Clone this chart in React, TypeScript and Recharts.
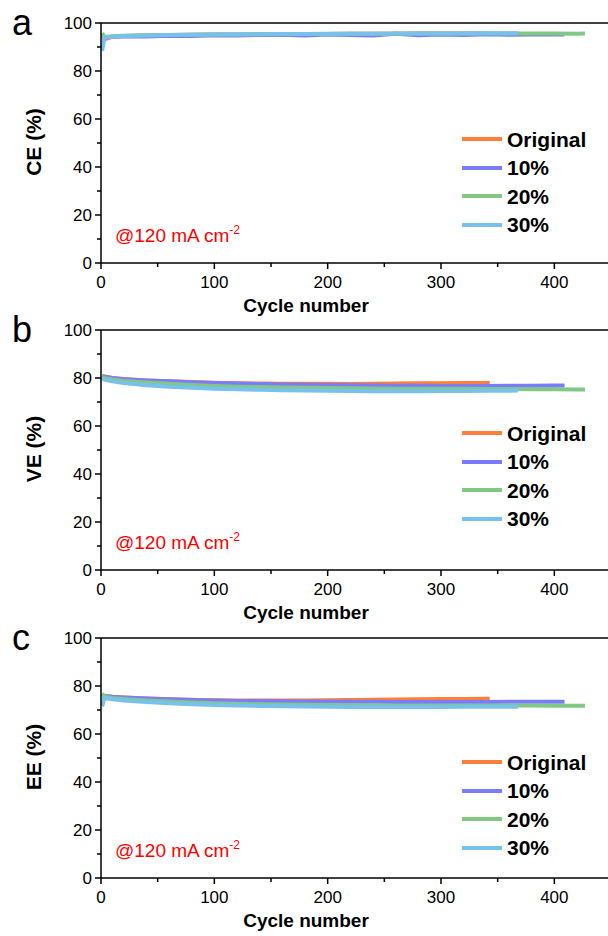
import React from 'react';
import { LineChart, Line, XAxis, YAxis, ReferenceLine, Legend } from 'recharts';

const FONT = '"Liberation Sans", Arial, sans-serif';

const SERIES_NAMES = ['Original', '10%', '20%', '30%'];
const SERIES_COLORS = ['#ff7f3a', '#7b7bff', '#80c883', '#78c1ec'];

const CYCLES_ORIGINAL = [1, 3, 10, 20, 40, 60, 80, 100, 120, 140, 160, 180, 200, 220, 240, 260, 280, 300, 320, 343];
const CYCLES_10 = [1, 3, 10, 20, 40, 60, 80, 100, 120, 140, 160, 180, 200, 220, 240, 260, 280, 300, 320, 340, 360, 380, 400, 409];
const CYCLES_20 = [1, 3, 10, 20, 40, 60, 80, 100, 120, 140, 160, 180, 200, 220, 240, 260, 280, 300, 320, 340, 360, 380, 400, 420, 427];
const CYCLES_30 = [1, 3, 10, 20, 40, 60, 80, 100, 120, 140, 160, 180, 200, 220, 240, 260, 280, 300, 320, 340, 360, 368];

const CE_ORIGINAL = [93.6, 93.2, 94.2, 94.6, 94.8, 95.0, 95.1, 95.2, 95.2, 95.3, 95.3, 95.4, 95.4, 95.5, 95.5, 95.5, 95.6, 95.6, 95.6, 95.6];
const CE_10 = [94.6, 94.0, 94.3, 94.5, 94.4, 94.7, 94.6, 94.9, 94.8, 95.0, 95.1, 94.8, 95.2, 95.0, 94.8, 95.5, 94.9, 95.2, 95.0, 95.3, 95.1, 95.2, 95.3, 95.2];
const CE_20 = [95.8, 94.2, 94.5, 94.7, 94.9, 95.0, 95.1, 95.2, 95.2, 95.3, 95.3, 95.4, 95.4, 95.5, 95.5, 95.5, 95.6, 95.6, 95.6, 95.6, 95.6, 95.6, 95.6, 95.5, 95.6];
const CE_30 = [88.4, 94.0, 94.3, 94.6, 94.8, 95.0, 95.1, 95.2, 95.3, 95.3, 95.4, 95.4, 95.5, 95.5, 95.5, 95.6, 95.6, 95.6, 95.6, 95.7, 95.7, 95.7];

const VE_ORIGINAL = [81.0, 80.6, 80.0, 79.6, 79.0, 78.6, 78.3, 78.0, 77.8, 77.7, 77.6, 77.6, 77.6, 77.5, 77.6, 77.7, 77.8, 77.8, 77.9, 77.9];
const VE_10 = [80.8, 80.5, 80.0, 79.5, 79.0, 78.6, 78.2, 77.9, 77.7, 77.5, 77.3, 77.2, 77.1, 77.0, 76.9, 76.8, 76.8, 76.7, 76.7, 76.7, 76.8, 76.8, 76.9, 76.9];
const VE_20 = [80.5, 80.0, 79.4, 78.8, 78.1, 77.6, 77.1, 76.7, 76.4, 76.2, 76.0, 75.9, 75.8, 75.7, 75.6, 75.5, 75.5, 75.5, 75.5, 75.4, 75.4, 75.3, 75.3, 75.2, 75.2];
const VE_30 = [79.8, 79.3, 78.6, 77.9, 77.0, 76.4, 75.9, 75.5, 75.3, 75.1, 74.9, 74.8, 74.7, 74.6, 74.5, 74.5, 74.5, 74.6, 74.6, 74.7, 74.7, 74.8];

const EE_ORIGINAL = [75.5, 75.8, 75.5, 75.2, 74.8, 74.5, 74.3, 74.1, 74.0, 74.0, 74.0, 74.0, 74.1, 74.2, 74.3, 74.4, 74.5, 74.6, 74.6, 74.7];
const EE_10 = [75.8, 75.8, 75.5, 75.2, 74.8, 74.5, 74.2, 74.0, 73.8, 73.7, 73.6, 73.5, 73.5, 73.4, 73.4, 73.3, 73.3, 73.3, 73.3, 73.3, 73.4, 73.4, 73.4, 73.4];
const EE_20 = [77.0, 75.5, 75.0, 74.6, 74.0, 73.5, 73.1, 72.8, 72.6, 72.4, 72.3, 72.2, 72.1, 72.0, 72.0, 71.9, 71.9, 71.9, 71.9, 71.9, 71.9, 71.9, 71.8, 71.8, 71.8];
const EE_30 = [71.5, 75.0, 74.5, 74.0, 73.3, 72.8, 72.4, 72.1, 71.9, 71.7, 71.6, 71.5, 71.4, 71.3, 71.3, 71.3, 71.3, 71.3, 71.4, 71.4, 71.4, 71.4];

const X_TICKS = [0, 50, 100, 150, 200, 250, 300, 350, 400, 450];
const Y_TICKS = [0, 10, 20, 30, 40, 50, 60, 70, 80, 90, 100];

const CYCLES = [CYCLES_ORIGINAL, CYCLES_10, CYCLES_20, CYCLES_30];

const zip = (xs: number[], ys: number[]) => xs.map((c, i) => ({ cycle: c, value: ys[i] }));

const PANELS = [
  { letter: 'a', label: 'CE (%)', top: 0, legendTop: 125, values: [CE_ORIGINAL, CE_10, CE_20, CE_30] },
  { letter: 'b', label: 'VE (%)', top: 307, legendTop: 112, values: [VE_ORIGINAL, VE_10, VE_20, VE_30] },
  { letter: 'c', label: 'EE (%)', top: 615, legendTop: 133, values: [EE_ORIGINAL, EE_10, EE_20, EE_30] },
];

function XTick(props: any) {
  const { x, y, payload } = props;
  const major = payload.value % 100 === 0;
  return (
    <g>
      <line x1={x} x2={x} y1={y} y2={y + (major ? 6 : 4)} stroke="#000" strokeWidth={1.5} />
      {major && (
        <text x={x} y={y + 25} textAnchor="middle" fontSize={17} fontFamily={FONT} fill="#000">
          {payload.value}
        </text>
      )}
    </g>
  );
}

function YTick(props: any) {
  const { x, y, payload } = props;
  const major = payload.value % 20 === 0;
  return (
    <g>
      <line x1={x} x2={x - (major ? 6 : 4)} y1={y} y2={y} stroke="#000" strokeWidth={1.5} />
      {major && (
        <text x={x - 9} y={y} dy="0.36em" textAnchor="end" fontSize={17} fontFamily={FONT} fill="#000">
          {payload.value}
        </text>
      )}
    </g>
  );
}

function LegendBox() {
  return (
    <div>
      {SERIES_NAMES.map((name, i) => (
        <div key={name} style={{ display: 'flex', alignItems: 'center', height: 28.5 }}>
          <div style={{ width: 40, height: 4, background: SERIES_COLORS[i], marginRight: 5 }} />
          <span style={{ fontFamily: FONT, fontWeight: 700, fontSize: 21, color: '#000', lineHeight: '21px' }}>{name}</span>
        </div>
      ))}
    </div>
  );
}

function Panel({ panel }: { panel: (typeof PANELS)[number] }) {
  return (
    <div style={{ position: 'absolute', left: 0, top: panel.top }}>
      <LineChart width={620} height={320} margin={{ top: 23, right: 9, left: 41, bottom: 5 }}>
        <XAxis
          type="number"
          dataKey="cycle"
          domain={[0, 450]}
          ticks={X_TICKS}
          interval={0}
          height={52}
          tickSize={0}
          tickMargin={0}
          tickLine={false}
          tick={<XTick />}
          axisLine={{ stroke: '#000', strokeWidth: 1.5 }}
          allowDataOverflow
        />
        <YAxis
          type="number"
          domain={[0, 100]}
          ticks={Y_TICKS}
          interval={0}
          width={60}
          tickSize={0}
          tickMargin={0}
          tickLine={false}
          tick={<YTick />}
          axisLine={{ stroke: '#000', strokeWidth: 1.5 }}
          allowDataOverflow
        />
        <ReferenceLine y={100} stroke="#000" strokeWidth={1.5} />
        {SERIES_NAMES.map((name, i) => (
          <Line
            key={name}
            name={name}
            data={zip(CYCLES[i], panel.values[i])}
            dataKey="value"
            type="linear"
            stroke={SERIES_COLORS[i]}
            strokeWidth={4}
            dot={false}
            isAnimationActive={false}
          />
        ))}
        <Legend
          content={<LegendBox />}
          layout="vertical"
          verticalAlign="middle"
          align="center"
          wrapperStyle={{ left: 462, top: panel.legendTop, width: 140 }}
        />
      </LineChart>
    </div>
  );
}

export default function App() {
  return (
    <div style={{ position: 'absolute', left: 0, top: 0, width: 608, height: 936, overflow: 'hidden', background: '#fff' }}>
      {PANELS.map((p) => (
        <Panel key={p.letter} panel={p} />
      ))}
      <svg width={608} height={936} style={{ position: 'absolute', left: 0, top: 0, pointerEvents: 'none' }}>
        {PANELS.map((p) => (
          <g key={p.letter} fontFamily={FONT}>
            <text x={12} y={p.top + 35} fontSize={36} fill="#000">
              {p.letter}
            </text>
            <text
              transform={`translate(41, ${p.top + 142}) rotate(-90)`}
              textAnchor="middle"
              fontSize={21}
              fontWeight={700}
              fill="#000"
            >
              {p.label}
            </text>
            <text x={306} y={p.top + 312} textAnchor="middle" fontSize={19} fontWeight={700} fill="#000">
              Cycle number
            </text>
            <text x={115} y={p.top + 242} fontSize={19} fill="#ff0000">
              @120 mA cm
              <tspan fontSize={12} dy={-8}>
                -2
              </tspan>
            </text>
          </g>
        ))}
      </svg>
    </div>
  );
}
